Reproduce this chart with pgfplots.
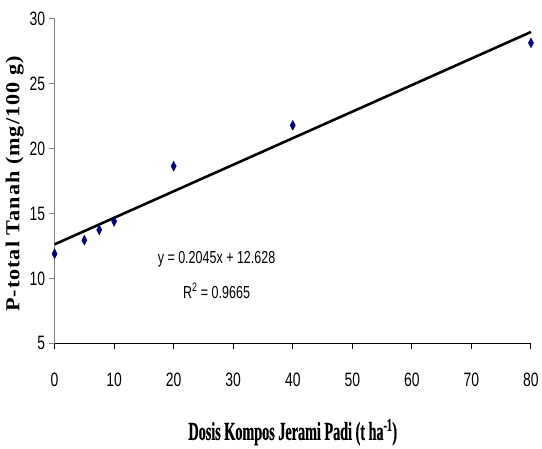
\documentclass[border=0pt]{standalone}
\usepackage{fontspec}
\setmainfont{Liberation Sans}[FakeStretch=0.72]
\newfontfamily\labfont{Liberation Serif}[BoldFont={* Bold},FakeStretch=0.55,FakeBold=0.6]
\newfontfamily\ylabfont{Liberation Serif}[BoldFont={* Bold},LetterSpace=5,FakeStretch=1.12]
\usepackage{pgfplots}
\pgfplotsset{compat=1.18}
\definecolor{navy}{RGB}{0,0,128}
\begin{document}
\begin{tikzpicture}
\begin{axis}[
  scale only axis, width=480pt, height=327pt,
  xmin=0, xmax=80, ymin=5, ymax=30,
  xtick={0,10,...,80}, ytick={5,10,...,30},
  axis x line*=bottom, axis y line*=left,
  x axis line style={black, line width=1.3pt, -},
  y axis line style={gray, line width=1.3pt, -},
  tick style={line width=1pt},
  xtick style={black}, ytick style={gray},
  tick align=outside,
  major tick length=6pt,
  /pgf/number format/assume math mode=true,
  ticklabel style={font=\fontsize{19.5}{20}\selectfont},
  xticklabel style={yshift=-20pt},
  xlabel={\labfont\bfseries Dosis Kompos Jerami Padi (t ha\textsuperscript{-1})},
  xlabel style={font=\fontsize{26}{28}\selectfont, yshift=-26pt},
  ylabel={\ylabfont\bfseries P-total Tanah (mg/100 g)},
  ylabel style={font=\fontsize{20}{21}\selectfont, yshift=-1pt, xshift=-3pt},
  clip=false,
]
\addplot[black, line width=2.6pt] coordinates {(0,12.628) (80,28.988)};
\addplot[only marks, mark=diamond*, mark size=5pt, mark options={fill=navy, draw=navy, xscale=0.7}] coordinates {
(0,11.9) (5,12.95) (7.5,13.75) (10,14.4) (20,18.65) (40,21.8) (80,28.15)};
\node[font=\fontsize{17.5}{18}\selectfont] at (axis cs:27.2,11.5) {y = 0.2045x + 12.628};
\node[font=\fontsize{17.5}{18}\selectfont] at (axis cs:27.2,9.05) {R\textsuperscript{2} = 0.9665};
\end{axis}
\path[use as bounding box] (-55pt,-100pt) rectangle (487pt,346pt);
\end{tikzpicture}
\end{document}
